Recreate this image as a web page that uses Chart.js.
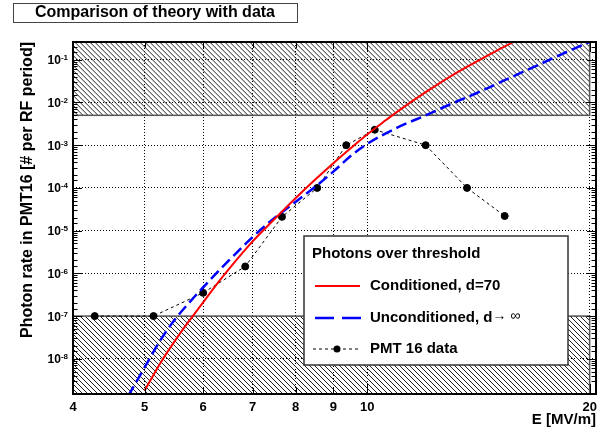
<!DOCTYPE html>
<html>
<head>
<meta charset="utf-8">
<script src="https://cdn.jsdelivr.net/npm/chart.js@4.4.1/dist/chart.umd.min.js"></script>
<style>
  html, body { margin: 0; padding: 0; background: #fff; }
  #wrap { width: 605px; height: 434px; }
</style>
</head>
<body>
<div id="wrap"><canvas id="theoryChart" width="605" height="434"></canvas></div>
<script>
// theory, conditioned cavity (d=70)
const conditionedE = [5.0, 5.25, 5.5, 5.75, 6.0, 6.25, 6.5, 7.0, 7.5, 8.0, 8.5, 9.0, 9.5, 10.0, 10.5, 11.0, 12.0, 13.0, 14.0, 15.0, 16.0];
const conditionedRate = [1.8e-9, 7.9e-9, 2.7e-8, 7.9e-8, 2.1e-7, 5.4e-7, 1.26e-6, 5.6e-6, 1.9e-5, 5.75e-5, 1.55e-4, 3.8e-4, 8.5e-4, 1.78e-3, 3.4e-3, 6.2e-3, 1.74e-2, 4.2e-2, 8.7e-2, 0.166, 0.295];

// theory, unconditioned (d -> inf)
const unconditionedE = [4.75, 5.0, 5.25, 5.5, 5.75, 6.0, 6.25, 6.5, 7.0, 7.5, 8.0, 8.5, 9.0, 9.5, 10.0, 11.0, 12.0, 13.0, 14.0, 15.0, 16.0, 17.0, 18.0, 19.0, 20.0];
const unconditionedRate = [1.35e-9, 6.3e-9, 2.7e-8, 8.5e-8, 2.1e-7, 4.7e-7, 1.0e-6, 2.0e-6, 7.1e-6, 2.0e-5, 4.7e-5, 1.05e-4, 2.4e-4, 5.6e-4, 1.07e-3, 2.6e-3, 5.0e-3, 9.3e-3, 1.6e-2, 2.75e-2, 4.6e-2, 7.4e-2, 0.117, 0.178, 0.263];

// PMT 16 measurement
const pmtE = [4.28, 5.14, 6.0, 6.84, 7.67, 8.56, 9.37, 10.24, 12.0, 13.65, 15.35];
const pmtRate = [1e-7, 1e-7, 3.5e-7, 1.45e-6, 2.1e-5, 1.0e-4, 1.0e-3, 2.3e-3, 1.0e-3, 1.0e-4, 2.2e-5];

// hatched regions: rate above / below these are out of reach
const bandE = [4, 20];
const upperLimit = 5e-3;
const lowerLimit = 1e-7;

const xTickLabels = [4, 5, 6, 7, 8, 9, 10, 20];
const yDecades = [-8, -7, -6, -5, -4, -3, -2, -1];

const FONT = "'Liberation Sans', Arial, Helvetica, sans-serif";
Chart.defaults.font.family = FONT;
Chart.defaults.color = '#000';

function decadeOf(v) {
    const e = Math.round(Math.log10(v));
    return Math.abs(Math.log10(v) - e) < 1e-6 ? e : null;
}
function isXLabel(v) {
    return xTickLabels.some(t => Math.abs(t - v) < 1e-6);
}

function pts(xs, ys) {
    return xs.map((x, i) => ({ x: x, y: ys[i] }));
}

function hatchBox(ctx, x0, y0, x1, y1) {
    ctx.save();
    ctx.beginPath();
    ctx.rect(x0, y0, x1 - x0, y1 - y0);
    ctx.clip();
    ctx.strokeStyle = '#222';
    ctx.lineWidth = 1;
    ctx.beginPath();
    const h = y1 - y0;
    for (let s = x0 - h; s < x1; s += 5) {
        ctx.moveTo(s, y0);
        ctx.lineTo(s + h, y1);
    }
    ctx.stroke();
    ctx.restore();
    ctx.save();
    ctx.strokeStyle = '#555';
    ctx.lineWidth = 1.5;
    ctx.strokeRect(x0, y0, x1 - x0, y1 - y0);
    ctx.restore();
}

const rootStyle = {
    id: 'rootStyle',
    beforeDatasetsDraw(chart) {
        const { ctx, chartArea: a, scales: { x, y } } = chart;
        const xl = x.getPixelForValue(bandE[0]);
        const xr = x.getPixelForValue(bandE[1]);
        hatchBox(ctx, xl, a.top, xr, y.getPixelForValue(upperLimit));
        hatchBox(ctx, xl, y.getPixelForValue(lowerLimit), xr, a.bottom);
    },
    afterDatasetsDraw(chart) {
        const { ctx, chartArea: a, scales: { x, y } } = chart;
        ctx.save();
        ctx.strokeStyle = '#000';
        ctx.lineWidth = 1;
        ctx.beginPath();
        // inward ticks, left and right
        y.ticks.forEach(t => {
            const py = Math.round(y.getPixelForValue(t.value)) + 0.5;
            if (py < a.top || py > a.bottom) return;
            const len = decadeOf(t.value) !== null ? 9 : 4.5;
            ctx.moveTo(a.left, py); ctx.lineTo(a.left + len, py);
            ctx.moveTo(a.right, py); ctx.lineTo(a.right - len, py);
        });
        // inward ticks, bottom and top
        x.ticks.forEach(t => {
            if (!isXLabel(t.value)) return;
            const px = Math.round(x.getPixelForValue(t.value)) + 0.5;
            const len = (t.value === 10 || t.value === 20) ? 10 : 6;
            ctx.moveTo(px, a.bottom); ctx.lineTo(px, a.bottom - len);
            ctx.moveTo(px, a.top); ctx.lineTo(px, a.top + len);
        });
        ctx.stroke();
        ctx.lineWidth = 2;
        ctx.strokeRect(a.left, a.top, a.right - a.left, a.bottom - a.top);
        ctx.restore();

        // y tick labels as 10 with raised exponent
        ctx.save();
        ctx.fillStyle = '#000';
        ctx.textAlign = 'right';
        ctx.textBaseline = 'alphabetic';
        yDecades.forEach(e => {
            const py = y.getPixelForValue(Math.pow(10, e));
            ctx.font = 'bold 8px ' + FONT;
            const ex = String(e);
            const w = ctx.measureText(ex).width;
            ctx.fillText(ex, a.left - 5, py + 0.5);
            ctx.font = 'bold 12px ' + FONT;
            ctx.fillText('10', a.left - 5 - w, py + 4.5);
        });
        ctx.restore();

        // legend box
        ctx.save();
        ctx.fillStyle = '#fff';
        ctx.fillRect(304, 236, 264, 129);
        ctx.strokeStyle = '#333';
        ctx.lineWidth = 1.5;
        ctx.strokeRect(304, 236, 264, 129);
        ctx.fillStyle = '#000';
        ctx.textBaseline = 'middle';
        ctx.font = 'bold 15px ' + FONT;
        ctx.fillText('Photons over threshold', 312, 254);
        ctx.fillText('Conditioned, d=70', 370, 286);
        ctx.fillText('Unconditioned, d', 370, 318);
        const wu = ctx.measureText('Unconditioned, d').width;
        ctx.font = '14px ' + FONT;
        ctx.fillText('\u2192 \u221E', 370 + wu, 316);
        ctx.font = 'bold 15px ' + FONT;
        ctx.fillText('PMT 16 data', 370, 349);

        ctx.lineWidth = 2;
        ctx.strokeStyle = '#ff0000';
        ctx.beginPath(); ctx.moveTo(315, 286); ctx.lineTo(360, 286); ctx.stroke();
        ctx.lineWidth = 2.5;
        ctx.strokeStyle = '#0000ff';
        ctx.beginPath();
        ctx.moveTo(315, 318); ctx.lineTo(334, 318);
        ctx.moveTo(342, 318); ctx.lineTo(361, 318);
        ctx.stroke();
        ctx.lineWidth = 1;
        ctx.strokeStyle = '#000';
        ctx.setLineDash([3, 3]);
        ctx.beginPath(); ctx.moveTo(313, 349); ctx.lineTo(361, 349); ctx.stroke();
        ctx.setLineDash([]);
        ctx.beginPath(); ctx.arc(337, 349, 3.5, 0, Math.PI * 2); ctx.fill();
        ctx.restore();
    },
    afterDraw(chart) {
        const ctx = chart.ctx;
        ctx.save();
        ctx.fillStyle = '#fff';
        ctx.fillRect(13, 3, 284, 20);
        ctx.strokeStyle = '#444';
        ctx.lineWidth = 1;
        ctx.strokeRect(13.5, 3.5, 284, 19);
        ctx.fillStyle = '#000';
        ctx.font = 'bold 16px ' + FONT;
        ctx.textAlign = 'center';
        ctx.textBaseline = 'middle';
        ctx.fillText('Comparison of theory with data', 155, 13);
        ctx.restore();
    }
};

new Chart(document.getElementById('theoryChart'), {
    type: 'scatter',
    data: {
        datasets: [
            {
                label: 'Conditioned, d=70',
                data: pts(conditionedE, conditionedRate),
                showLine: true,
                borderColor: '#ff0000',
                borderWidth: 2,
                pointRadius: 0,
                cubicInterpolationMode: 'monotone'
            },
            {
                label: 'Unconditioned, d\u2192\u221E',
                data: pts(unconditionedE, unconditionedRate),
                showLine: true,
                borderColor: '#0000ff',
                borderWidth: 2.5,
                borderDash: [11, 5],
                pointRadius: 0,
                cubicInterpolationMode: 'monotone'
            },
            {
                label: 'PMT 16 data',
                data: pts(pmtE, pmtRate),
                showLine: true,
                borderColor: '#000',
                borderWidth: 1,
                borderDash: [3, 3],
                pointRadius: 3.5,
                pointBackgroundColor: '#000',
                pointBorderColor: '#000'
            }
        ]
    },
    options: {
        responsive: false,
        animation: false,
        layout: { padding: { top: 42, right: 9, left: 0, bottom: 0 } },
        plugins: {
            legend: { display: false },
            tooltip: { enabled: false }
        },
        scales: {
            x: {
                type: 'logarithmic',
                min: 4,
                max: 20.4,
                afterFit: s => { s.height = 40; },
                border: { display: false, dash: [1, 2] },
                grid: {
                    drawTicks: false,
                    lineWidth: 1,
                    color: c => (c.tick && isXLabel(c.tick.value) && c.tick.value !== 4) ? '#000' : 'rgba(0,0,0,0)'
                },
                ticks: {
                    autoSkip: false,
                    maxRotation: 0,
                    padding: 6,
                    font: { size: 13, weight: 'bold' },
                    callback: v => isXLabel(v) ? String(v) : ''
                },
                title: {
                    display: true,
                    text: 'E [MV/m]',
                    align: 'end',
                    font: { size: 15, weight: 'bold' },
                    padding: { top: 0, bottom: 5 }
                }
            },
            y: {
                type: 'logarithmic',
                min: 1.5e-9,
                max: 0.26,
                afterFit: s => { s.width = 73; },
                border: { display: false, dash: [1, 2] },
                grid: {
                    drawTicks: false,
                    lineWidth: 1,
                    color: c => (c.tick && decadeOf(c.tick.value) !== null) ? '#000' : 'rgba(0,0,0,0)'
                },
                ticks: { display: false },
                title: {
                    display: true,
                    text: 'Photon rate in PMT16 [# per RF period]',
                    align: 'end',
                    font: { size: 16, weight: 'bold' },
                    padding: { top: 18 }
                }
            }
        }
    },
    plugins: [rootStyle]
});
</script>
</body>
</html>
